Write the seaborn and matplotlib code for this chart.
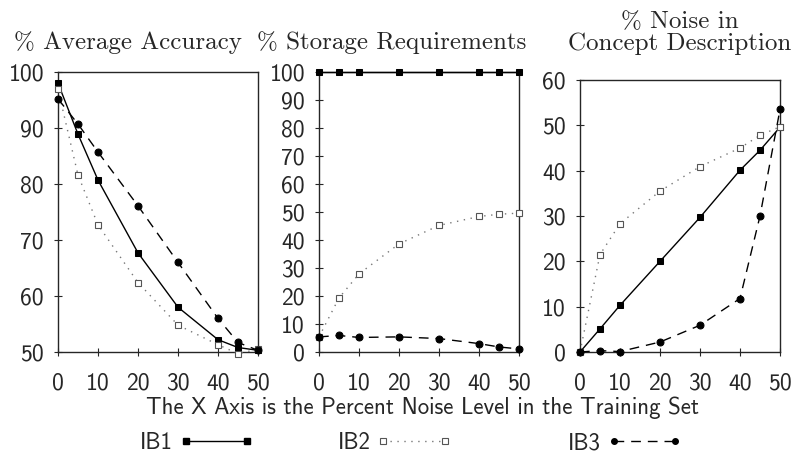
import matplotlib
matplotlib.use("Agg")
import matplotlib.pyplot as plt
import seaborn as sns
from matplotlib.lines import Line2D

noise = [0, 5, 10, 20, 30, 40, 45, 50]
algorithms = ["IB1", "IB2", "IB3"]

acc_ib1 = [98.0, 88.9, 80.7, 67.7, 58.0, 52.2, 50.8, 50.3]
acc_ib2 = [96.9, 81.6, 72.7, 62.4, 54.8, 51.3, 49.7, 50.5]
acc_ib3 = [95.2, 90.7, 85.7, 76.1, 66.0, 56.0, 51.7, 50.3]

sto_ib1 = [100, 100, 100, 100, 100, 100, 100, 100]
sto_ib2 = [5.4, 19.3, 27.9, 38.6, 45.2, 48.4, 49.2, 49.6]
sto_ib3 = [5.4, 5.9, 5.2, 5.4, 4.8, 3.0, 1.8, 1.1]

noi_ib1 = [0.0, 5.1, 10.3, 20.0, 29.7, 40.1, 44.5, 49.6]
noi_ib2 = [0.0, 21.5, 28.3, 35.5, 40.9, 45.0, 47.8, 49.7]
noi_ib3 = [0.0, 0.3, 0.1, 2.2, 5.9, 11.8, 30.0, 53.5]

titles = ["% Average Accuracy", "% Storage Requirements", "% Noise in\nConcept Description"]
xticks = [0, 10, 20, 30, 40, 50]
xlabel_text = "The X Axis is the Percent Noise Level in the Training Set"

sns.set_style("ticks")
plt.rcParams["axes.formatter.use_mathtext"] = True

SANS = "cmss10"
SERIF = "cmr10"

fig = plt.figure(figsize=(7.93, 4.55), dpi=100)
W = 200 / 793
axes = [
    fig.add_axes([58 / 793, 103 / 455, W, 280 / 455]),
    fig.add_axes([319 / 793, 103 / 455, W, 280 / 455]),
    fig.add_axes([580 / 793, 103 / 455, W, 272 / 455]),
]

styles = {
    "IB1": dict(color="black", marker="s", linestyle="-", lw=1.0, ms=5,
                mfc="black", mec="black"),
    "IB2": dict(color="#777777", marker="s", linestyle=(0, (1, 4)), lw=1.0, ms=5,
                mfc="white", mec="#555555", mew=0.8),
    "IB3": dict(color="black", marker="o", linestyle=(0, (7, 5)), lw=1.0, ms=5,
                mfc="black", mec="black"),
}

panels = [
    (acc_ib1, acc_ib2, acc_ib3, (50, 100), list(range(50, 101, 10))),
    (sto_ib1, sto_ib2, sto_ib3, (0, 100), list(range(0, 101, 10))),
    (noi_ib1, noi_ib2, noi_ib3, (0, 60), list(range(0, 61, 10))),
]

for ax, (v1, v2, v3, ylim, yt) in zip(axes, panels):
    for name, vals in zip(algorithms, [v1, v2, v3]):
        sns.lineplot(x=noise, y=vals, ax=ax, clip_on=False, zorder=3, **styles[name])
    ax.set_xlim(0, 50)
    ax.set_ylim(*ylim)
    ax.set_xticks(xticks)
    ax.set_yticks(yt)
    ax.set_xticklabels([str(t) for t in xticks], fontfamily=SANS, fontsize=17)
    ax.set_yticklabels([str(t) for t in yt], fontfamily=SANS, fontsize=17)
    ax.tick_params(direction="inout", length=6, width=0.8)
    ax.tick_params(axis="y", pad=7)
    ax.tick_params(axis="x", pad=12)
    for s in ax.spines.values():
        s.set_linewidth(1.0)
        s.set_visible(True)
    ax.set_xlabel("")
    ax.set_ylabel("")

fig.text(128 / 793, 1 - 43 / 455, titles[0], ha="center", va="center",
         fontfamily=SERIF, fontsize=18)
fig.text(392 / 793, 1 - 43 / 455, titles[1], ha="center", va="center",
         fontfamily=SERIF, fontsize=18)
fig.text(680 / 793, 1 - 33 / 455, titles[2], ha="center", va="center",
         fontfamily=SERIF, fontsize=18, linespacing=0.95)

fig.text(422 / 793, 1 - 408 / 455, xlabel_text, ha="center", va="center",
         fontfamily=SANS, fontsize=16.5)

leg_x = [140, 338, 568]
for name, lx in zip(algorithms, leg_x):
    st = dict(styles[name])
    st["ms"] = 4
    h = Line2D([], [], **st)
    leg = fig.legend([h], [name], markerfirst=False, numpoints=2,
                     handlelength=3.3, handletextpad=0.25, borderpad=0,
                     borderaxespad=0, frameon=False, loc="center left",
                     bbox_to_anchor=(lx / 793, 1 - 443 / 455),
                     prop={"family": SANS, "size": 16.5})

fig.savefig("out.png", dpi=100)
